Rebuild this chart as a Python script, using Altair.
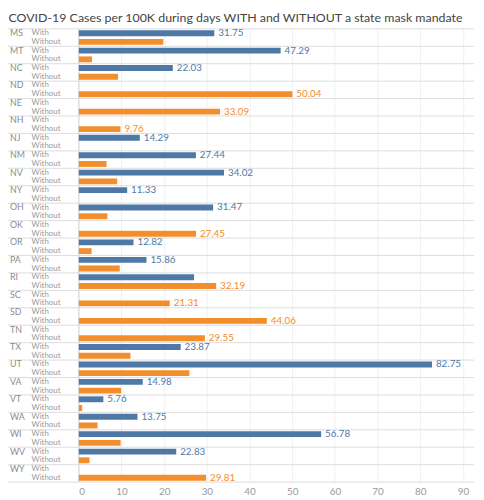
import altair as alt
import pandas as pd

states = ["MS", "MT", "NC", "ND", "NE", "NH", "NJ", "NM", "NV", "NY", "OH", "OK", "OR",
          "PA", "RI", "SC", "SD", "TN", "TX", "UT", "VA", "VT", "WA", "WI", "WV", "WY"]
with_vals = [31.75, 47.29, 22.03, None, None, None, 14.29, 27.44, 34.02, 11.33, 31.47, None, 12.82,
             15.86, 27.0, None, None, None, 23.87, 82.75, 14.98, 5.76, 13.75, 56.78, 22.83, None]
without_vals = [19.8, 3.1, 9.2, 50.04, 33.09, 9.76, None, 6.5, 9.0, None, 6.7, 27.45, 3.0,
                9.6, 32.19, 21.31, 44.06, 29.55, 12.1, 25.9, 9.9, 0.8, 4.4, 9.8, 2.5, 29.81]
types = ["With", "Without"]
x_ticks = [0, 10, 20, 30, 40, 50, 60, 70, 80, 90]

rows = []
for s, w, wo in zip(states, with_vals, without_vals):
    mx = max(v for v in (w, wo) if v is not None)
    for t, v in zip(types, (w, wo)):
        rows.append({
            "state": s, "type": t, "key": f"{s}|{t}", "value": v,
            "label": f"{v:.2f}" if (v is not None and v == mx) else "",
            "first": t == "With", "last": s == states[-1] and t == "Without",
        })
df = pd.DataFrame(rows)
keys = list(df["key"])

W, H = 402, 461
yscale = alt.Scale(domain=keys, paddingInner=0, paddingOuter=0)
color = alt.Color("type:N", scale=alt.Scale(domain=types, range=["#4e79a7", "#f28e2b"]), legend=None)
lcolor = alt.Color("type:N", scale=alt.Scale(domain=types, range=["#98acca", "#f5c68a"]), legend=None)

base = alt.Chart(df)
xenc = alt.X("value:Q", scale=alt.Scale(domain=[0, 92.6], nice=False, zero=True),
             axis=alt.Axis(values=x_ticks, title=None, ticks=False, domain=False,
                           labelColor="#999999", labelFont="Lato", labelFontSize=10,
                           labelPadding=5, grid=True, gridColor="#f0f0f0"))

bars = base.transform_filter("datum.value != null").mark_bar(size=6).encode(
    x=xenc,
    y=alt.Y("key:N", scale=yscale, axis=None),
    color=color,
)

vlabels = base.transform_filter("datum.label != ''").mark_text(
    align="left", baseline="middle", dx=4, font="Lato", fontSize=10
).encode(
    x="value:Q",
    y=alt.Y("key:N", scale=yscale, axis=None),
    text="label:N",
    color=lcolor,
)

seps = base.transform_filter("datum.first").mark_rule(color="#dcdcdc", strokeWidth=1).encode(
    y=alt.Y("key:N", scale=yscale, axis=None, bandPosition=0),
    x=alt.value(-72), x2=alt.value(W),
)
bottom = base.transform_filter("datum.last").mark_rule(color="#dcdcdc", strokeWidth=1).encode(
    y=alt.Y("key:N", scale=yscale, axis=None, bandPosition=1),
    x=alt.value(-72), x2=alt.value(W),
)
zero = base.transform_filter("datum.last").mark_rule(color="#d6d6d6", strokeWidth=1).encode(
    x=alt.datum(0), y=alt.value(0), y2=alt.value(H),
)

state_lbl = base.transform_filter("datum.first").mark_text(
    align="left", baseline="middle", font="Lato", fontSize=9, color="#8c8c8c"
).encode(
    y=alt.Y("key:N", scale=yscale, axis=None),
    x=alt.value(-70),
    text="state:N",
)
type_lbl = base.mark_text(
    align="left", baseline="middle", font="Lato", fontSize=8, color="#999999"
).encode(
    y=alt.Y("key:N", scale=yscale, axis=None),
    x=alt.value(-48),
    text="type:N",
)

chart = alt.layer(seps, bottom, zero, bars, vlabels, state_lbl, type_lbl).properties(
    width=W, height=H,
    autosize=alt.AutoSizeParams(type="none"),
    padding={"left": 72, "top": 17, "right": 2, "bottom": 14},
    title=alt.TitleParams(
        "COVID-19 Cases per 100K during days WITH and WITHOUT a state mask mandate",
        anchor="start", dx=1, offset=4, font="Lato", fontSize=12.6,
        fontWeight="normal", color="#444444",
    ),
).configure_view(stroke=None)

chart.save("out.html", embed_options={"renderer": "svg", "actions": False})
